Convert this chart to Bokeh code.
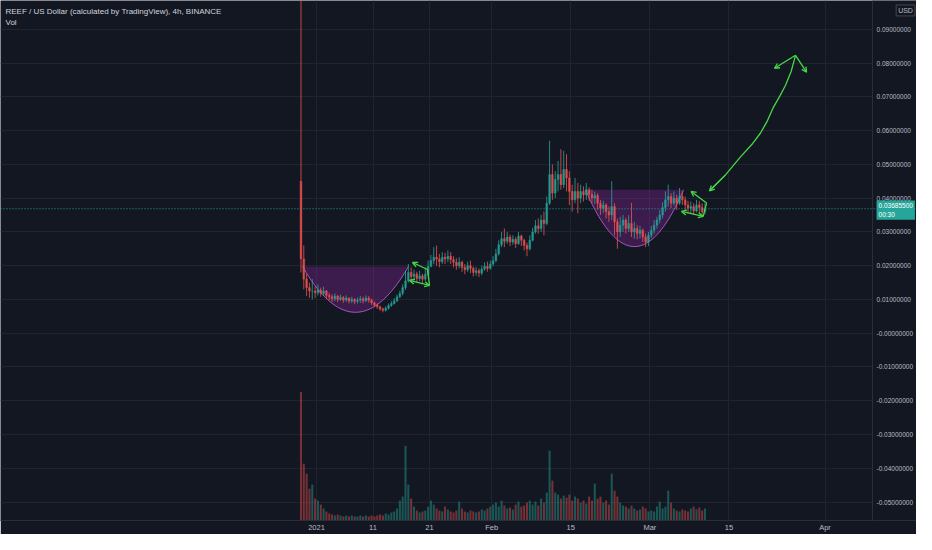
import numpy as np
from bokeh.plotting import figure
from bokeh.models import (Range1d, FixedTicker, ColumnDataSource, Span, Label, Arrow, OpenHead,
                          BoxAnnotation)
from bokeh.embed import file_html
from bokeh.resources import INLINE

# ---------------- data (12h candles, time in days from 2021-01-01 00:00) ----------------
first_open = 0.0450
start_day = -3.0
bar_days = 0.5

close = [
    0.0220, 0.0160, 0.0135, 0.0125, 0.0125, 0.0120,
    0.0128, 0.0118, 0.0125, 0.0112, 0.0108, 0.0102, 0.0110, 0.0100, 0.0106, 0.0098,
    0.0104, 0.0095, 0.0100, 0.0094, 0.0098, 0.0102, 0.0096, 0.0104, 0.0098, 0.0090,
    0.0084, 0.0078, 0.0072, 0.0068, 0.0074, 0.0082, 0.0088, 0.0096, 0.0108, 0.0118,
    0.0135, 0.0155, 0.0180, 0.0168, 0.0175, 0.0162, 0.0170, 0.0160, 0.0175, 0.0198,
    0.0215, 0.0225, 0.0220, 0.0212, 0.0225, 0.0220, 0.0228, 0.0218, 0.0210, 0.0200,
    0.0210, 0.0195, 0.0188, 0.0200, 0.0192, 0.0180, 0.0185, 0.0178, 0.0190, 0.0198,
    0.0192, 0.0205, 0.0215, 0.0235, 0.0262, 0.0280, 0.0272, 0.0285, 0.0270, 0.0278,
    0.0265, 0.0288, 0.0275, 0.0260, 0.0250, 0.0275, 0.0300, 0.0318, 0.0310, 0.0335,
    0.0325, 0.0385, 0.0470, 0.0415, 0.0455, 0.0470, 0.0440, 0.0485, 0.0460, 0.0420,
    0.0395, 0.0420, 0.0400, 0.0420, 0.0410, 0.0425, 0.0412, 0.0400, 0.0408, 0.0385,
    0.0370, 0.0380, 0.0360, 0.0350, 0.0375, 0.0330, 0.0300, 0.0320, 0.0335, 0.0310,
    0.0325, 0.0300, 0.0310, 0.0295, 0.0305, 0.0285, 0.0270, 0.0290, 0.0305, 0.0320,
    0.0335, 0.0350, 0.0372, 0.0395, 0.0405, 0.0385, 0.0400, 0.0385, 0.0405, 0.0395,
    0.0380, 0.0370, 0.0375, 0.0362, 0.0380, 0.0372, 0.0360, 0.036855,
]
high = [
    0.1200, 0.0260, 0.0175, 0.0150, 0.0160, 0.0140,
    0.0145, 0.0135, 0.0138, 0.0128, 0.0120, 0.0115, 0.0118, 0.0113, 0.0114, 0.0110,
    0.0112, 0.0106, 0.0108, 0.0104, 0.0106, 0.0110, 0.0108, 0.0112, 0.0110, 0.0102,
    0.0094, 0.0088, 0.0082, 0.0076, 0.0080, 0.0088, 0.0095, 0.0104, 0.0114, 0.0126,
    0.0145, 0.0185, 0.0205, 0.0195, 0.0188, 0.0182, 0.0185, 0.0176, 0.0195, 0.0215,
    0.0232, 0.0255, 0.0260, 0.0235, 0.0240, 0.0238, 0.0245, 0.0240, 0.0228, 0.0222,
    0.0225, 0.0215, 0.0205, 0.0212, 0.0215, 0.0198, 0.0196, 0.0192, 0.0200, 0.0210,
    0.0212, 0.0215, 0.0228, 0.0250, 0.0275, 0.0300, 0.0310, 0.0300, 0.0292, 0.0290,
    0.0285, 0.0300, 0.0292, 0.0280, 0.0268, 0.0290, 0.0312, 0.0335, 0.0340, 0.0350,
    0.0360, 0.0405, 0.0570, 0.0500, 0.0480, 0.0510, 0.0545, 0.0540, 0.0530, 0.0480,
    0.0440, 0.0460, 0.0445, 0.0440, 0.0435, 0.0445, 0.0432, 0.0425, 0.0420, 0.0415,
    0.0395, 0.0392, 0.0385, 0.0375, 0.0450, 0.0385, 0.0340, 0.0345, 0.0350, 0.0342,
    0.0350, 0.0386, 0.0330, 0.0320, 0.0318, 0.0310, 0.0295, 0.0300, 0.0318, 0.0335,
    0.0345, 0.0365, 0.0388, 0.0420, 0.0440, 0.0415, 0.0420, 0.0410, 0.0430, 0.0420,
    0.0405, 0.0392, 0.0390, 0.0385, 0.0395, 0.0392, 0.0385, 0.0385,
]
low = [
    0.0180, 0.0130, 0.0110, 0.0105, 0.0100, 0.0105,
    0.0112, 0.0108, 0.0112, 0.0102, 0.0098, 0.0092, 0.0095, 0.0092, 0.0096, 0.0090,
    0.0093, 0.0088, 0.0089, 0.0086, 0.0088, 0.0090, 0.0088, 0.0092, 0.0090, 0.0084,
    0.0077, 0.0072, 0.0066, 0.0062, 0.0064, 0.0070, 0.0078, 0.0085, 0.0092, 0.0104,
    0.0112, 0.0128, 0.0150, 0.0152, 0.0155, 0.0150, 0.0154, 0.0148, 0.0155, 0.0170,
    0.0195, 0.0205, 0.0200, 0.0195, 0.0205, 0.0205, 0.0210, 0.0205, 0.0195, 0.0188,
    0.0192, 0.0182, 0.0175, 0.0182, 0.0178, 0.0168, 0.0170, 0.0166, 0.0172, 0.0185,
    0.0182, 0.0188, 0.0198, 0.0210, 0.0230, 0.0255, 0.0255, 0.0265, 0.0258, 0.0262,
    0.0252, 0.0262, 0.0258, 0.0245, 0.0228, 0.0245, 0.0272, 0.0295, 0.0295, 0.0300,
    0.0290, 0.0320, 0.0380, 0.0395, 0.0400, 0.0420, 0.0425, 0.0430, 0.0420, 0.0380,
    0.0360, 0.0385, 0.0355, 0.0385, 0.0390, 0.0395, 0.0392, 0.0385, 0.0382, 0.0365,
    0.0350, 0.0355, 0.0340, 0.0330, 0.0335, 0.0290, 0.0250, 0.0285, 0.0300, 0.0295,
    0.0300, 0.0285, 0.0280, 0.0278, 0.0280, 0.0270, 0.0255, 0.0258, 0.0282, 0.0295,
    0.0310, 0.0325, 0.0340, 0.0360, 0.0375, 0.0370, 0.0378, 0.0365, 0.0380, 0.0380,
    0.0365, 0.0355, 0.0355, 0.0350, 0.0358, 0.0352, 0.0345, 0.0352,
]
volume_m = [
    129, 57, 47, 32, 36, 22,
    20, 16, 12, 9, 7, 6, 5, 6, 5, 4,
    5, 4, 5, 4, 4, 5, 4, 5, 4, 5,
    4, 5, 6, 5, 7, 6, 8, 9, 12, 20,
    24, 75, 36, 22, 14, 10, 8, 9, 10, 14,
    20, 16, 12, 10, 9, 14, 11, 9, 8, 10,
    19, 12, 9, 8, 10, 9, 8, 9, 11, 10,
    12, 14, 16, 18, 14, 20, 15, 12, 13, 11,
    16, 19, 14, 15, 18, 20, 16, 19, 15, 22,
    18, 28, 70, 40, 28, 26, 22, 25, 23, 26,
    20, 24, 22, 18, 20, 17, 24, 20, 37, 22,
    24, 18, 20, 16, 47, 30, 24, 18, 15, 14,
    12, 15, 12, 10, 11, 14, 12, 9, 10, 9,
    14, 19, 12, 14, 30, 18, 12, 10, 9, 11,
    10, 9, 12, 14, 11, 13, 10, 12,
]
last_price = 0.036855
last_price_text = "0.03685500\n00:30"

price_ticks = [0.09, 0.08, 0.07, 0.06, 0.05, 0.04, 0.03, 0.02, 0.01, 0.0,
               -0.01, -0.02, -0.03, -0.04, -0.05]
price_tick_labels = ["0.09000000", "0.08000000", "0.07000000", "0.06000000", "0.05000000",
                     "0.04000000", "0.03000000", "0.02000000", "0.01000000", "-0.00000000",
                     "-0.01000000", "-0.02000000", "-0.03000000", "-0.04000000", "-0.05000000"]
date_tick_days = [0, 10, 20, 31, 45, 59, 73, 90]
date_tick_labels = ["2021", "11", "21", "Feb", "15", "Mar", "15", "Apr"]

# drawings (time in days, price)
cup1 = dict(t0=-2.48, t1=16.28, top=0.01976, bottom=0.0062)
cup2 = dict(t0=47.6, t1=64.96, top=0.04248, bottom=0.02566)
flag1 = [(19.65, 0.01888), (16.99, 0.02094), (20.0, 0.01416), (16.46, 0.01563)]
flag2 = [(69.03, 0.03855), (66.3, 0.04198), (68.44, 0.0346), (64.6, 0.03608)]
big_t = [69.56, 72.39, 75.04, 77.2, 78.58, 79.8, 80.88, 82.0, 83.01, 84.0, 84.78]
big_p = [0.04218, 0.0469, 0.05221, 0.05620, 0.05929, 0.06290, 0.06696, 0.07020, 0.07345, 0.07750, 0.0823]
big_arms = [(81.06, 0.07847), (86.73, 0.07729)]

title_text = "REEF / US Dollar (calculated by TradingView), 4h, BINANCE"

# ---------------- styling ----------------
BG = "#131722"
GRID = "#20242f"
AXIS = "#2a2e39"
TXT = "#b8bbc4"
UP = "#26a69a"
DOWN = "#ef5350"
GREEN = "#45d945"
PURPLE = "#9c27b0"
FONT = "Liberation Sans"

X_START, X_END = -55.93, 106.19      # full canvas width
PRICE_SCALE_AT = 98.41               # where the price scale begins

n = len(close)
opens = [first_open] + close[:-1]
t = start_day + bar_days * (np.arange(n) + 0.5)
colors = [UP if c >= o else DOWN for c, o in zip(close, opens)]
src = ColumnDataSource(dict(
    t=t, open=opens, close=close, high=high, low=low, volume=volume_m, color=colors,
    body_top=[max(o, c) for o, c in zip(opens, close)],
    body_bot=[min(o, c) for o, c in zip(opens, close)],
))

p = figure(width=916, height=534, x_range=Range1d(X_START, X_END),
           y_range=Range1d(-0.05546, 0.09853), y_axis_location="right",
           output_backend="svg", toolbar_location=None, title=None,
           min_border_left=0, min_border_top=0, min_border_right=0, min_border_bottom=12,
           background_fill_color=BG, border_fill_color=BG, outline_line_color=None)

p.extra_y_ranges = {"vol": Range1d(0, 522)}

# axes
p.xaxis.ticker = FixedTicker(ticks=date_tick_days)
p.xaxis.major_label_overrides = {d: l for d, l in zip(date_tick_days, date_tick_labels)}
p.yaxis.ticker = FixedTicker(ticks=price_ticks)
p.yaxis.major_label_overrides = {v: l for v, l in zip(price_ticks, price_tick_labels)}
p.yaxis.fixed_location = PRICE_SCALE_AT
for ax in (p.xaxis, p.yaxis):
    ax.axis_line_color = AXIS
    ax.major_tick_line_color = None
    ax.minor_tick_line_color = None
    ax.major_tick_out = 0
    ax.major_tick_in = 0
    ax.minor_tick_out = 0
    ax.minor_tick_in = 0
    ax.major_label_text_color = TXT
    ax.major_label_text_font = FONT
p.yaxis.major_label_text_font_size = "6.5px"
p.yaxis.major_label_standoff = 4
p.xaxis.major_label_text_font_size = "7.5px"
p.xaxis.major_label_standoff = 2
p.xgrid.grid_line_color = GRID
p.ygrid.grid_line_color = GRID

# price-scale background (hides grid under the scale)
p.add_layout(BoxAnnotation(left=PRICE_SCALE_AT, fill_color=BG, fill_alpha=1.0,
                           line_color=None, level="underlay"))

# volume
p.vbar(x="t", width=0.36, top="volume", bottom=0, fill_color="color", fill_alpha=0.45,
       line_color=None, y_range_name="vol", source=src)

# cups (parabolic arcs)
for cup in (cup1, cup2):
    xs = np.linspace(cup["t0"], cup["t1"], 60)
    cx = 0.5 * (cup["t0"] + cup["t1"])
    hw = 0.5 * (cup["t1"] - cup["t0"])
    ys = cup["top"] - (cup["top"] - cup["bottom"]) * (1 - ((xs - cx) / hw) ** 2)
    p.patch(list(xs), list(ys), fill_color=PURPLE, fill_alpha=0.3, line_color=None)
    p.line(list(xs), list(ys), line_color="#b060cc", line_width=1, line_alpha=0.9)

# candles
p.segment(x0="t", y0="low", x1="t", y1="high", line_color="color", line_width=1,
          line_alpha=0.8, source=src)
p.vbar(x="t", width=0.32, top="body_top", bottom="body_bot", fill_color="color",
       line_color="color", line_width=0.5, fill_alpha=0.75, line_alpha=0.75, source=src)

# last price line
p.add_layout(Span(location=last_price, dimension="width", line_color=UP,
                  line_dash="1 2", line_width=1))

# green drawings
def arrow(a, b, both=False):
    p.add_layout(Arrow(x_start=a[0], y_start=a[1], x_end=b[0], y_end=b[1],
                       line_color=GREEN, line_width=1.3,
                       end=OpenHead(size=5, line_color=GREEN, line_width=1.3),
                       start=OpenHead(size=5, line_color=GREEN, line_width=1.3) if both else None))

for fl in (flag1, flag2):
    arrow(fl[0], fl[1])
    p.line([fl[0][0], fl[2][0]], [fl[0][1], fl[2][1]], line_color=GREEN, line_width=1.3)
    arrow(fl[2], fl[3], both=True)

p.line(big_t, big_p, line_color=GREEN, line_width=1.3)
arrow((big_t[1], big_p[1]), (big_t[0], big_p[0]))
for arm in big_arms:
    arrow((big_t[-1], big_p[-1]), arm)

# texts
p.add_layout(Label(x=X_START, y=0.09528, text=title_text, text_color="#d1d4dc",
                   text_font=FONT, text_font_size="8px", text_baseline="middle", x_offset=5))
p.add_layout(Label(x=X_START, y=0.09204, text="Vol", text_color="#d1d4dc",
                   text_font=FONT, text_font_size="8px", text_baseline="middle", x_offset=5))
p.add_layout(Label(x=PRICE_SCALE_AT, y=last_price - 0.0004, text=last_price_text,
                   text_color="#ffffff", text_font=FONT, text_font_size="6.5px",
                   text_baseline="middle", background_fill_color=UP, padding=2, x_offset=4))
p.add_layout(Label(x=104.25, y=0.09558, text="USD", text_color=TXT, text_font=FONT,
                   text_font_size="7px", text_baseline="middle", text_align="center",
                   border_line_color="#434651", padding=2))

open("out.html", "w").write(file_html(p, INLINE))
